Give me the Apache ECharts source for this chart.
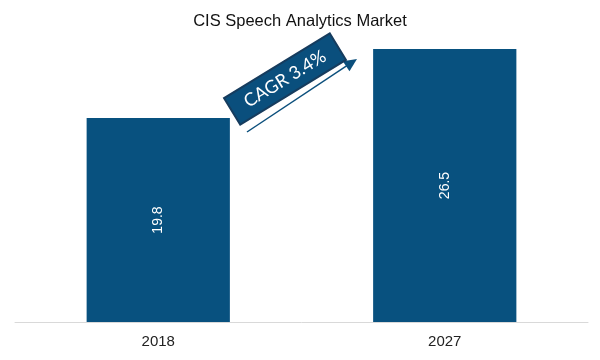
<!DOCTYPE html>
<html>
<head>
<meta charset="utf-8">
<script src="https://cdn.jsdelivr.net/npm/echarts@6/dist/echarts.min.js"></script>
<style>html,body{margin:0;padding:0;background:#fff}#c{width:600px;height:360px}</style>
</head>
<body>
<div id="c"></div>
<script>
const categories = ['2018', '2027'];
const marketValues = [19.8, 26.5];
const titleText = 'CIS Speech Analytics Market';
const cagrText = 'CAGR 3.4%';

const chart = echarts.init(document.getElementById('c'));
const deg = Math.PI / 180;
const boxRot = 31.5 * deg;
const arrowLen = 132;
chart.setOption({
  animation: false,
  title: {
    text: titleText, left: 'center', top: 8,
    textStyle: {fontFamily: 'Liberation Sans', fontSize: 16.5, fontWeight: 'normal', color: '#111'}
  },
  grid: {left: 15, right: 12, top: 13, bottom: 38},
  xAxis: {
    type: 'category', data: categories,
    axisLine: {lineStyle: {color: '#d9d9d9', width: 1}},
    axisTick: {show: false},
    axisLabel: {fontFamily: 'Liberation Sans', fontSize: 15, color: '#222', margin: 12}
  },
  yAxis: {
    type: 'value', min: 0, max: 30, show: false, splitLine: {show: false}
  },
  series: [{
    type: 'bar', data: marketValues, barWidth: '50%',
    itemStyle: {color: '#08517f'},
    label: {
      show: true, position: 'inside', rotate: 90, color: '#fff',
      fontFamily: 'Liberation Sans', fontSize: 14
    }
  }],
  graphic: [
    {
      type: 'group', x: 247, y: 132, rotation: Math.atan2(73, 110),
      children: [
        {type: 'line', shape: {x1: 0, y1: 0, x2: arrowLen - 8, y2: 0}, style: {stroke: '#0b4f7c', lineWidth: 1.5}},
        {type: 'polygon', shape: {points: [[arrowLen, 0], [arrowLen - 13, -6], [arrowLen - 13, 6]]}, style: {fill: '#0b4f7c'}}
      ]
    },
    {
      type: 'group', x: 285, y: 79, rotation: boxRot,
      children: [
        {type: 'rect', shape: {x: -62, y: -15.5, width: 124, height: 31}, style: {fill: '#0a4f7d', stroke: '#163c5e', lineWidth: 2}},
        {type: 'text', x: 0, y: 0, style: {text: cagrText, fill: '#fff', font: '18px Lato', align: 'center', verticalAlign: 'middle'}}
      ]
    }
  ]
});
</script>
</body>
</html>
